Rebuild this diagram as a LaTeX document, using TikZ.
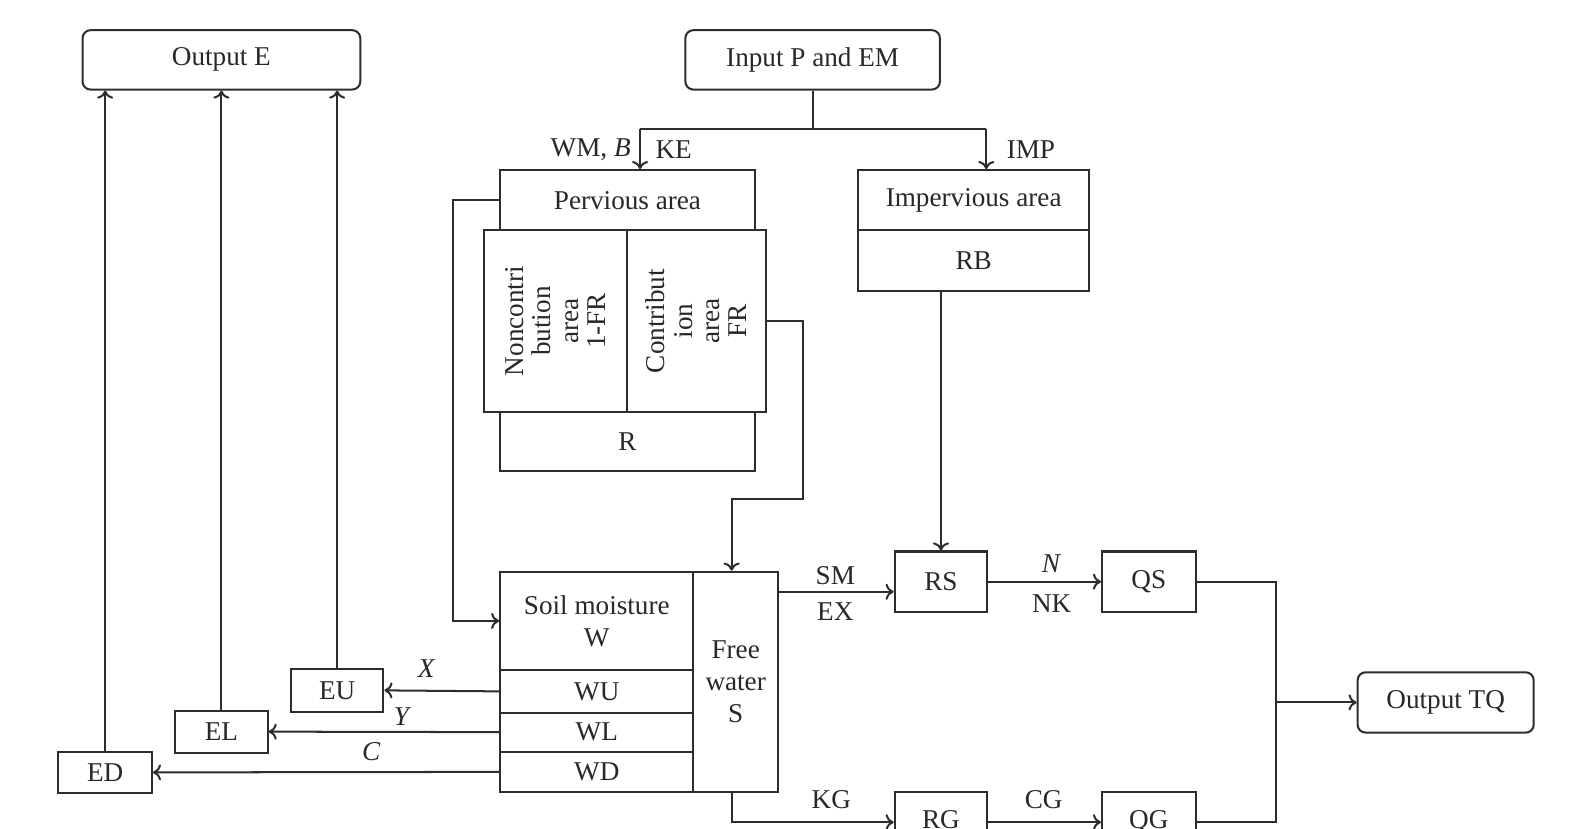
\documentclass[tikz,border=0pt]{standalone}
\usepackage{fontspec}
\setmainfont{Liberation Serif}
\usetikzlibrary{arrows.meta}
\definecolor{lc}{RGB}{45,45,45}
\definecolor{tc}{RGB}{40,40,40}
\newcommand\mainfs{\fontsize{13.5}{16}\selectfont}
\newcommand\rotfs{\fontsize{13.5}{13.6}\selectfont}
\begin{document}
\begin{tikzpicture}[x=0.5pt,y=-0.5pt,
  box/.style={draw=lc, line width=1pt, rectangle, inner sep=0pt, align=center, font=\mainfs, text=tc},
  rbox/.style={box, rounded corners=4pt},
  arr/.style={draw=lc, line width=1pt, -{To[length=4pt,width=8pt]}},
  ln/.style={draw=lc, line width=1pt},
  lab/.style={font=\mainfs, text=tc, inner sep=0pt}]
\useasboundingbox (0,0) rectangle (1568,823);
\clip (0,0) rectangle (1568,823);
\fill[white] (0,0) rectangle (1568,823);
% boxes
\node[rbox, minimum width=138pt, minimum height=29.5pt] (oute) at (220,59.5) {Output E};
\node[rbox, minimum width=126.5pt, minimum height=29.5pt] (inp) at (807.5,59.5) {Input P and EM};
\node[box, minimum width=126.5pt, minimum height=30pt] (perv) at (623.5,199) {Pervious area};
\node[box, minimum width=71pt, minimum height=90pt] (nonc) at (552,319) {};
\node[box, minimum width=69pt, minimum height=90pt] (contr) at (692,319) {};
\node[lab, rotate=90, align=center, font=\rotfs] at (nonc.center) {Noncontri\\bution\\area\\1-FR};
\node[lab, rotate=90, align=center, font=\rotfs] at (contr.center) {Contribut\\ion\\area\\FR};
\node[box, minimum width=126.5pt, minimum height=29.5pt] (r) at (623.5,438.5) {R};
\node[box, minimum width=114.5pt, minimum height=30pt] (imp) at (967.5,199) {Impervious area};
\node[box, minimum width=114.5pt, minimum height=30pt] (rb) at (967.5,259) {RB};
\node[box, minimum width=96pt, minimum height=49pt] (soil) at (593,617) {Soil moisture\\W};
\node[box, minimum width=96pt, minimum height=21pt] (wu) at (593,687) {WU};
\node[box, minimum width=96pt, minimum height=19.5pt] (wl) at (593,727.5) {WL};
\node[box, minimum width=96pt, minimum height=20pt] (wd) at (593,767) {WD};
\node[box, minimum width=42pt, minimum height=109.5pt] (free) at (731,677.5) {Free\\water\\S};
\node[box, minimum width=46pt, minimum height=30pt] (rs) at (935,578) {RS};
\node[box, minimum width=46.5pt, minimum height=30pt] (qs) at (1141.5,578) {QS};
\node[box, minimum width=46pt, minimum height=30pt] (rg) at (935,817) {\raisebox{2.5pt}{RG}};
\node[box, minimum width=46.5pt, minimum height=30pt] (qg) at (1141.5,817) {\raisebox{2.5pt}{QG}};
\node[rbox, minimum width=87.5pt, minimum height=30pt] (outtq) at (1436.5,698) {Output TQ};
\node[box, minimum width=46pt, minimum height=21pt] (eu) at (335,686) {EU};
\node[box, minimum width=46pt, minimum height=21pt] (el) at (220,727) {EL};
\node[box, minimum width=46.5pt, minimum height=20.5pt] (ed) at (104.5,767.5) {ED};
% labels
\node[lab, anchor=east] at (627,149) {WM, \textit{B}};
\node[lab, anchor=west] at (651,149) {KE};
\node[lab, anchor=west] at (1000,149) {IMP};
\node[lab] at (830,572) {SM};
\node[lab] at (830,608) {EX};
\node[lab] at (1045,560) {\textit{N}};
\node[lab] at (1045,600) {NK};
\node[lab] at (826,795) {KG};
\node[lab] at (1037,795) {CG};
\node[lab] at (424,664) {\textit{X}};
\node[lab] at (400,712) {\textit{Y}};
\node[lab] at (369,747) {\textit{C}};
% connectors
\coordinate (j1) at (807.5,128);
\coordinate (pa) at (636,128);
\coordinate (ia) at (980,128);
\draw[ln] (inp.south) -- (j1);
\draw[ln] (pa) -- (ia);
\draw[arr] (pa) -- (pa |- perv.north);
\draw[arr] (ia) -- (ia |- imp.north);
\draw[arr] (perv.west) -- ++(-46,0) |- (soil.west);
\coordinate (cf) at (727,496);
\draw[arr] (contr.east) -- ++(36,0) |- (cf) -- (cf |- free.north);
\draw[arr] (rs.north |- rb.south) -- (rs.north);
\coordinate (sm) at (773,588);
\draw[arr] (sm) -- (sm -| rs.west);
\draw[arr] (rs.east) -- (qs.west);
\coordinate (kg) at (727,787);
\draw[arr] (kg) |- (rg.west);
\draw[arr] (rg.east) -- (qg.west);
\coordinate (jq) at (1268,698);
\draw[ln] (qs.east) -| (jq);
\draw[ln] (qg.east) -| (jq);
\draw[arr] (jq) -- (outtq.west);
\draw[arr] (wu.west) -- (eu.east);
\draw[arr] (wl.west) -- (el.east);
\draw[arr] (wd.west) -- (ed.east);
\draw[arr] (eu.north) -- (eu.north |- oute.south);
\draw[arr] (el.north) -- (el.north |- oute.south);
\draw[arr] (ed.north) -- (ed.north |- oute.south);
\end{tikzpicture}
\end{document}
